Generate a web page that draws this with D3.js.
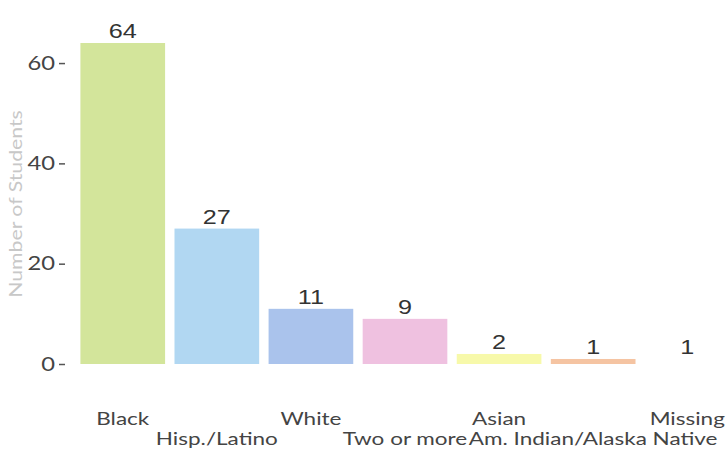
<!DOCTYPE html>
<html><head><meta charset="utf-8">
<script src="https://cdn.jsdelivr.net/npm/d3@7"></script>
<style>body{margin:0;background:#fff}</style>
</head><body>
<svg id="chart" width="726" height="454"></svg>
<script>
const categories = ["Black","Hisp./Latino","White","Two or more","Asian","Am. Indian/Alaska Native","Missing"];
const values = [64, 27, 11, 9, 2, 1, 1];
const colors = ["#d3e59b","#b1d7f2","#aac3ec","#efc1e0","#f7f9aa","#f5c4a2","#ffffff"];
const yTicks = [0, 20, 40, 60];

const svg = d3.select("#chart");
const x = d3.scaleBand().domain(categories).range([71, 739]).paddingInner(0.1).paddingOuter(0.1);
const y = d3.scaleLinear().domain([0, 64]).range([364, 43]);
const font = "Lato, 'Open Sans', sans-serif";
const sx = 1.25;

svg.selectAll("rect.bar").data(categories).join("rect")
  .attr("class","bar")
  .attr("x", d => x(d))
  .attr("width", x.bandwidth())
  .attr("y", (d,i) => y(values[i]))
  .attr("height", (d,i) => y(0) - y(values[i]))
  .attr("fill", (d,i) => colors[i]);

svg.selectAll("text.val").data(categories).join("text")
  .attr("class","val")
  .attr("transform", (d,i) => `translate(${x(d) + x.bandwidth()/2},${y(values[i]) - 5}) scale(1.2,1)`)
  .attr("text-anchor","middle")
  .attr("font-family", "'Liberation Sans', Arial, sans-serif")
  .attr("font-size", 21)
  .attr("fill", "#333")
  .text((d,i) => values[i]);

const yAxis = svg.append("g").attr("transform","translate(65,0)")
  .call(d3.axisLeft(y).tickValues(yTicks).tickSize(6).tickPadding(4));
yAxis.select(".domain").remove();
yAxis.selectAll("line").attr("stroke","#555").attr("stroke-width",1.5);
yAxis.selectAll("text")
  .attr("x", -10 / sx)
  .attr("transform", `scale(${sx},1)`)
  .attr("font-family", font).attr("font-size", 19).attr("fill","#444");

svg.selectAll("text.xl").data(categories).join("text")
  .attr("class","xl")
  .attr("transform", (d,i) => `translate(${x(d) + x.bandwidth()/2},${i % 2 === 0 ? 425 : 445}) scale(${sx},1)`)
  .attr("text-anchor","middle")
  .attr("font-family", font)
  .attr("font-size", 18)
  .attr("fill","#444")
  .text(d => d);

svg.append("text")
  .attr("transform","translate(22,204) rotate(-90) scale(1.25,1)")
  .attr("text-anchor","middle")
  .attr("font-family", font)
  .attr("font-size", 17)
  .attr("fill","#c8c8c8")
  .text("Number of Students");
</script>
</body></html>
